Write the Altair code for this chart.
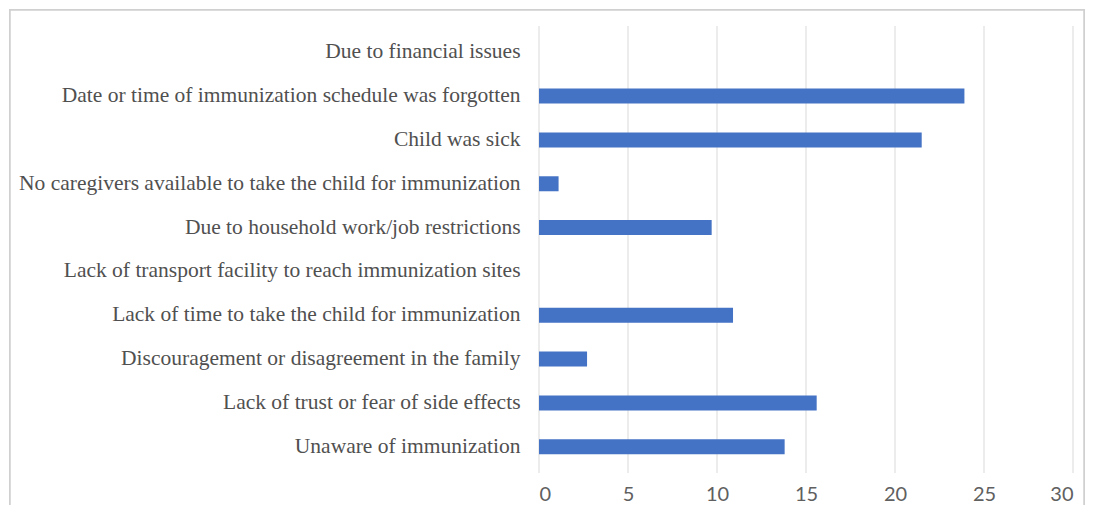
import altair as alt
import pandas as pd

reasons = [
    "Due to financial issues",
    "Date or time of immunization schedule was forgotten",
    "Child was sick",
    "No caregivers available to take the child for immunization",
    "Due to household work/job restrictions",
    "Lack of transport facility to reach immunization sites",
    "Lack of time to take the child for immunization",
    "Discouragement or disagreement in the family",
    "Lack of trust or fear of side effects",
    "Unaware of immunization",
]
values = [0, 23.9, 21.5, 1.1, 9.7, 0, 10.9, 2.7, 15.6, 13.8]
x_ticks = [0, 5, 10, 15, 20, 25, 30]

df = pd.DataFrame({"reason": reasons, "value": values})
ticks_df = pd.DataFrame({"value": x_ticks})

x_scale = alt.Scale(domain=[0, 30], nice=False)
x_axis = alt.Axis(
    values=x_ticks,
    title=None,
    domain=False,
    ticks=False,
    grid=False,
    labelFont="Lato",
    labelFontSize=20,
    labelColor="#606060",
    labelPadding=11,
    zindex=1,
)

frame = alt.Chart(df).mark_rect(
    fill="white", stroke="#d0d0d0", strokeWidth=1.5
).encode(
    x=alt.value(-529), x2=alt.value(545), y=alt.value(-16), y2=alt.value(520)
)

grid = alt.Chart(ticks_df).mark_rule(color="#d9d9d9", strokeWidth=1).encode(
    x=alt.X("value:Q", scale=x_scale, axis=x_axis)
)

bars = alt.Chart(df).mark_bar(color="#4472C4", size=15).encode(
    x=alt.X("value:Q", scale=x_scale, axis=x_axis),
    y=alt.Y(
        "reason:N",
        sort=reasons,
        title=None,
        scale=alt.Scale(paddingInner=0, paddingOuter=0.1),
        axis=alt.Axis(
            domain=False,
            grid=False,
            ticks=False,
            labelFont="Liberation Serif",
            labelFontSize=21.5,
            labelColor="#505050",
            labelPadding=19,
            labelLimit=600,
            zindex=1,
        ),
    ),
)

chart = (
    alt.layer(frame, grid, bars)
    .properties(
        width=534,
        height=447,
        autosize=alt.AutoSizeParams(type="none"),
        padding={"left": 531, "top": 18, "right": 12, "bottom": 32},
    )
    .configure_axis(domain=False)
    .configure_view(stroke="transparent", strokeOpacity=0)
    .configure(background="white")
)

chart.save("out.html", embed_options={"renderer": "svg", "actions": False})
